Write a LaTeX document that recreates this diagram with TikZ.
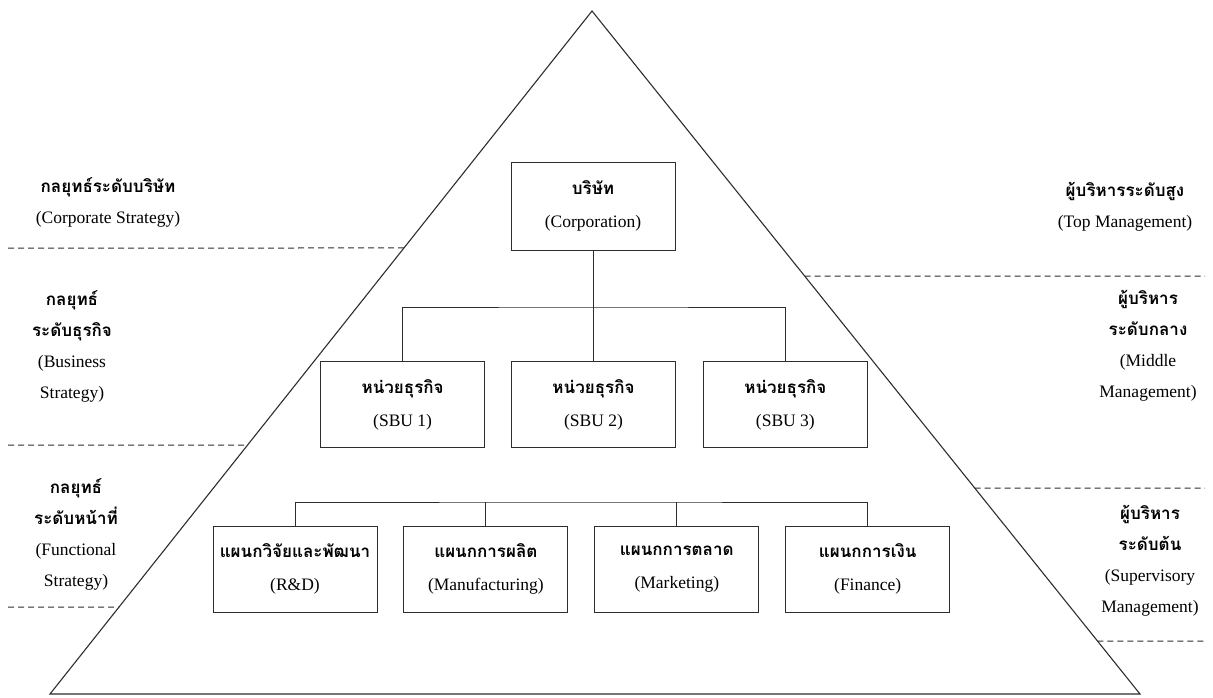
\documentclass[tikz,border=0pt]{standalone}
\usepackage{fontspec}
\setmainfont{Liberation Serif}
\newfontfamily\thaifont[Script=Thai]{Loma}
\usetikzlibrary{positioning,calc}
\definecolor{lineGray}{RGB}{45,45,45}
\newcommand{\thaib}[1]{{\thaifont\bfseries\fontsize{17}{31}\selectfont #1}}
\tikzset{
  orgBox/.style={rectangle,draw=lineGray,line width=0.9pt,minimum width=164pt,
                 minimum height=86pt,align=center,inner sep=0pt,
                 font=\fontsize{17.5}{33}\selectfont},
  sideNote/.style={align=center,inner sep=0pt,font=\fontsize{17.5}{31}\selectfont},
  levelLine/.style={draw=lineGray,line width=1pt,dash pattern=on 6pt off 4pt},
  orgLine/.style={draw=lineGray,line width=0.9pt},
}

\begin{document}
\begin{tikzpicture}[x=1pt,y=-1pt]
  \useasboundingbox (0,0) rectangle (1213,697);
  % pyramid
  \coordinate (apex) at (592,11);
  \coordinate (bl) at (50,694);
  \coordinate (br) at (1140,694);
  \draw[orgLine,line width=1.1pt] (apex)--(bl)--(br)--cycle;
  % level borders
  \foreach \y [count=\i] in {248,445,607}{
    \coordinate (ls\i) at (8,\y);
    \coordinate (le\i) at ($(apex)!{(\y-11)/683}!(bl)$);
    \draw[levelLine] (ls\i)--(le\i);}
  \foreach \y [count=\i] in {276,488,641}{
    \coordinate (rs\i) at ($(apex)!{(\y-11)/683}!(br)$);
    \coordinate (re\i) at (1205,\y);
    \draw[levelLine] (rs\i)--(re\i);}
  % chart
  \node[orgBox,minimum height=88pt](corp) at (593,206){\thaib{บริษัท}\\(Corporation)};
  \node[orgBox](sbu2) at (593.5,404.5){\thaib{หน่วยธุรกิจ}\\(SBU 2)};
  \node[orgBox,left=26pt of sbu2](sbu1){\thaib{หน่วยธุรกิจ}\\(SBU 1)};
  \node[orgBox,right=27pt of sbu2](sbu3){\thaib{หน่วยธุรกิจ}\\(SBU 3)};
  \node[orgBox](rd) at (295,569){\thaib{แผนกวิจัยและพัฒนา}\\(R\&D)};
  \node[orgBox,right=26pt of rd](mfg){\thaib{แผนกการผลิต}\\(Manufacturing)};
  \node[orgBox,right=26pt of mfg](mkt){\thaib{แผนกการตลาด}\\(Marketing)};
  \node[orgBox,right=26pt of mkt](fin){\thaib{แผนกการเงิน}\\(Finance)};
  \coordinate (sbuBus) at (593,307);
  \draw[orgLine](corp.south)--(corp.south|-sbuBus);
  \draw[orgLine](sbu1.north)|-(sbuBus)-|(sbu3.north);
  \draw[orgLine](sbu2.north)--(sbu2.north|-sbuBus);
  \coordinate (deptBus) at (580,502);
  \draw[orgLine](rd.north)|-(deptBus)-|(fin.north);
  \foreach \d in {mfg,mkt}{\draw[orgLine](\d.north)--(\d.north|-deptBus);}
  % strategy levels
  \node[sideNote](corpStr) at (108,202){\thaib{กลยุทธ์ระดับบริษัท}\\(Corporate Strategy)};
  \node[sideNote](busStr) at (72,346){\thaib{กลยุทธ์}\\\thaib{ระดับธุรกิจ}\\(Business\\Strategy)};
  \node[sideNote](funStr) at (76,534){\thaib{กลยุทธ์}\\\thaib{ระดับหน้าที่}\\(Functional\\Strategy)};
  % management levels
  \node[sideNote](topMgt) at (1125,207){\thaib{ผู้บริหารระดับสูง}\\(Top Management)};
  \node[sideNote](midMgt) at (1148,346){\thaib{ผู้บริหาร}\\\thaib{ระดับกลาง}\\(Middle\\Management)};
  \node[sideNote](supMgt) at (1150,561){\thaib{ผู้บริหาร}\\\thaib{ระดับต้น}\\(Supervisory\\Management)};
\end{tikzpicture}
\end{document}
